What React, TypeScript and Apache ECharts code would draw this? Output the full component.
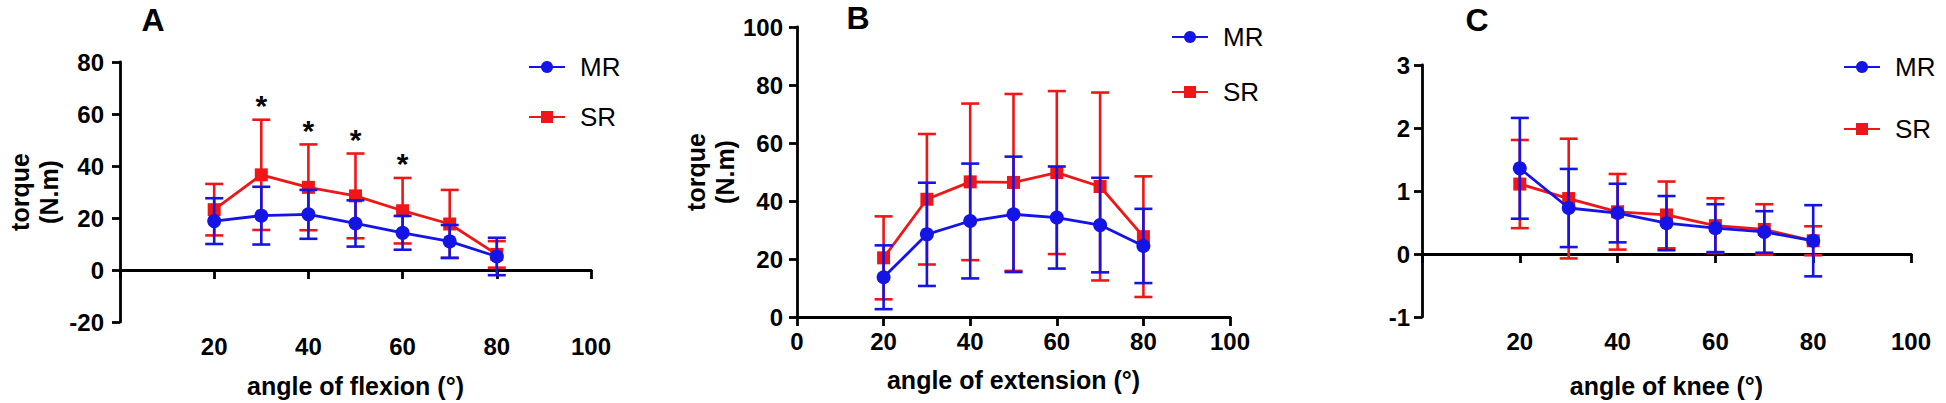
import React, { useEffect, useRef } from 'react';
import * as echarts from 'echarts';

// ---- data ----
const angles = [20, 30, 40, 50, 60, 70, 80];

// Panel A: flexion torque (N.m)
const flexMR = [18.8, 20.9, 21.4, 17.9, 14.3, 11.0, 5.2];
const flexMRsd = [8.8, 11.1, 9.4, 8.9, 6.5, 6.3, 7.2];
const flexSR = [23.2, 36.6, 31.8, 28.5, 22.8, 17.7, 6.0];
const flexSRsd = [9.9, 21.2, 16.5, 16.3, 12.6, 13.1, 5.1];
const sigAngles = [30, 40, 50, 60];

// Panel B: extension torque (N.m)
const extMR = [13.7, 28.5, 33.1, 35.4, 34.3, 31.7, 24.5];
const extMRsd = [11.0, 17.8, 19.8, 19.9, 17.6, 16.3, 12.8];
const extSR = [20.4, 40.6, 46.6, 46.4, 49.8, 45.0, 27.7];
const extSRsd = [14.3, 22.5, 27.0, 30.5, 28.1, 32.4, 20.8];

// Panel C: knee
const kneeMR = [1.36, 0.73, 0.65, 0.49, 0.41, 0.35, 0.21];
const kneeMRsd = [0.8, 0.62, 0.465, 0.43, 0.38, 0.33, 0.565];
const kneeSR = [1.11, 0.88, 0.67, 0.62, 0.45, 0.39, 0.21];
const kneeSRsd = [0.7, 0.95, 0.6, 0.53, 0.435, 0.4, 0.23];

const xTitles = ['angle of flexion (°)', 'angle of extension (°)', 'angle of knee (°)'];
const yTitle = 'torque\n(N.m)';
const panelLetters = ['A', 'B', 'C'];
const yRanges = [
  { min: -20, max: 80, interval: 20 },
  { min: 0, max: 100, interval: 20 },
  { min: -1, max: 3, interval: 1 },
];

const BLUE = '#1414e6';
const RED = '#ee1616';
const FONT = '"Liberation Sans", Arial, Helvetica, sans-serif';

const errRender = (color: string) => (params: any, api: any) => {
  const x = api.value(0);
  const lo = api.value(1);
  const hi = api.value(2);
  const pLo = api.coord([x, lo]);
  const pHi = api.coord([x, hi]);
  const w = 9;
  const style = { stroke: color, lineWidth: 2.6 };
  return {
    type: 'group',
    children: [
      { type: 'line', shape: { x1: pLo[0], y1: pLo[1], x2: pHi[0], y2: pHi[1] }, style },
      { type: 'line', shape: { x1: pHi[0] - w, y1: pHi[1], x2: pHi[0] + w, y2: pHi[1] }, style },
      { type: 'line', shape: { x1: pLo[0] - w, y1: pLo[1], x2: pLo[0] + w, y2: pLo[1] }, style },
    ],
  };
};

export default function App() {
  const ref = useRef<HTMLDivElement>(null);
  useEffect(() => {
    if (!ref.current) return;
    const chart = echarts.init(ref.current, undefined, { renderer: 'svg' });

    const grids = [
      { left: 120, top: 62, width: 471, height: 314 },
      { left: 797, top: 27, width: 433, height: 290 },
      { left: 1422, top: 65, width: 489, height: 326 },
    ];
    const xNameGaps = [51, 50, 56];
    const yNameGaps = [57, 52, 0];
    const yLabelMargins = [16, 14, 12];
    const panels = [
      { mr: flexMR, mrsd: flexMRsd, sr: flexSR, srsd: flexSRsd },
      { mr: extMR, mrsd: extMRsd, sr: extSR, srsd: extSRsd },
      { mr: kneeMR, mrsd: kneeMRsd, sr: kneeSR, srsd: kneeSRsd },
    ];

    const axisLineStyle = { color: '#000', width: 2.8 };
    const labelStyle = { fontSize: 24, fontWeight: 'bold', color: '#000', fontFamily: FONT };

    const xAxis = grids.map((_, i) => ({
      type: 'value',
      gridIndex: i,
      min: 0,
      max: 100,
      interval: 20,
      axisLine: { show: true, onZero: true, lineStyle: axisLineStyle },
      axisTick: { show: true, length: 9, lineStyle: axisLineStyle },
      axisLabel: {
        ...labelStyle,
        margin: 12,
        formatter: (v: number) => (i === 1 || v !== 0 ? String(v) : ''),
      },
      splitLine: { show: false },
      name: xTitles[i],
      nameLocation: 'middle',
      nameGap: xNameGaps[i],
      nameTextStyle: { fontSize: 25, fontWeight: 'bold', color: '#000', fontFamily: FONT },
    }));

    const yAxis = grids.map((_, i) => ({
      type: 'value',
      gridIndex: i,
      ...yRanges[i],
      axisLine: { show: true, onZero: false, lineStyle: axisLineStyle },
      axisTick: { show: true, length: 8, lineStyle: axisLineStyle },
      axisLabel: { ...labelStyle, margin: yLabelMargins[i] },
      splitLine: { show: false },
      name: i < 2 ? yTitle : '',
      nameLocation: 'middle',
      nameRotate: 90,
      nameGap: yNameGaps[i],
      nameTextStyle: { fontSize: 25, fontWeight: 'bold', color: '#000', fontFamily: FONT, lineHeight: 29 },
    }));

    const series: any[] = [];
    panels.forEach((p, i) => {
      series.push({
        type: 'custom',
        name: 'SR error',
        xAxisIndex: i,
        yAxisIndex: i,
        renderItem: errRender(RED),
        data: angles.map((a, k) => [a, p.sr[k] - p.srsd[k], p.sr[k] + p.srsd[k]]),
        encode: { x: 0, y: [1, 2] },
        z: 2,
        silent: true,
      });
      series.push({
        type: 'line',
        name: 'SR',
        xAxisIndex: i,
        yAxisIndex: i,
        data: angles.map((a, k) => [a, p.sr[k]]),
        symbol: 'rect',
        symbolSize: 13,
        lineStyle: { color: RED, width: 2.8 },
        itemStyle: { color: RED },
        z: 3,
      });
      series.push({
        type: 'custom',
        name: 'MR error',
        xAxisIndex: i,
        yAxisIndex: i,
        renderItem: errRender(BLUE),
        data: angles.map((a, k) => [a, p.mr[k] - p.mrsd[k], p.mr[k] + p.mrsd[k]]),
        encode: { x: 0, y: [1, 2] },
        z: 4,
        silent: true,
      });
      series.push({
        type: 'line',
        name: 'MR',
        xAxisIndex: i,
        yAxisIndex: i,
        data: angles.map((a, k) => [a, p.mr[k]]),
        symbol: 'circle',
        symbolSize: 14,
        lineStyle: { color: BLUE, width: 2.8 },
        itemStyle: { color: BLUE },
        z: 5,
      });
    });

    // significance asterisks (panel A)
    series.push({
      type: 'custom',
      name: 'significance',
      xAxisIndex: 0,
      yAxisIndex: 0,
      data: sigAngles.map((a) => {
        const k = angles.indexOf(a);
        return [a, flexSR[k] + flexSRsd[k]];
      }),
      encode: { x: 0, y: 1 },
      renderItem: (params: any, api: any) => {
        const pt = api.coord([api.value(0), api.value(1)]);
        return {
          type: 'text',
          x: pt[0],
          y: pt[1] - 14,
          style: {
            text: '*',
            fontSize: 30,
            fontWeight: 'bold',
            fontFamily: FONT,
            fill: '#000',
            align: 'center',
            verticalAlign: 'middle',
          },
        };
      },
      z: 6,
      silent: true,
    });

    const legendBase = {
      data: ['MR', 'SR'],
      orient: 'vertical',
      itemWidth: 36,
      itemHeight: 15,
      selectedMode: false,
      textStyle: { fontSize: 26, color: '#000', fontFamily: FONT, padding: [0, 0, 0, 10] },
    };

    const option: any = {
      animation: false,
      backgroundColor: '#fff',
      grid: grids,
      xAxis,
      yAxis,
      series,
      legend: [
        { ...legendBase, left: 523, top: 49, itemGap: 24 },
        { ...legendBase, left: 1166, top: 19, itemGap: 29 },
        { ...legendBase, left: 1838, top: 49, itemGap: 36 },
      ],
      graphic: [
        { x: 153, y: 20 },
        { x: 858, y: 18 },
        { x: 1477, y: 20 },
      ].map((pos, i) => ({
        type: 'text',
        x: pos.x,
        y: pos.y,
        style: {
          text: panelLetters[i],
          fontSize: 32,
          fontWeight: 'bold',
          fontFamily: FONT,
          fill: '#000',
          align: 'center',
          verticalAlign: 'middle',
        },
      })),
    };

    chart.setOption(option);
    return () => chart.dispose();
  }, []);

  return (
    <div
      ref={ref}
      style={{ position: 'fixed', left: 0, top: 0, width: 1946, height: 403, background: '#fff' }}
    />
  );
}
